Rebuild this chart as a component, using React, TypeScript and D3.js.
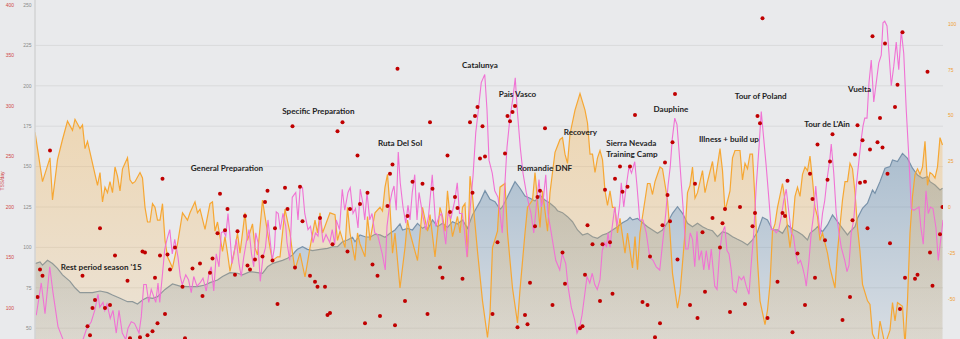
import React from "react";
import * as d3 from "d3";

const W = 960;
const H = 339;

// ---- Data (day index from start of season, value) ----
// Training Stress Balance (form) – right orange axis
const tsbSeries: [number, number][] = [[0,41],[3,14],[6,27],[7,4],[9,26],[11,37],[13,47],[15,42],[16,48],[18,43],[19,45],[20,32],[21,36],[22,30],[23,24],[25,12],[26,19],[27,3],[28,11],[29,8],[30,14],[31,8],[32,22],[33,17],[34,9],[35,21],[37,27],[38,15],[39,13],[40,14],[42,19],[43,16],[44,0],[45,-8],[46,-8],[47,2],[48,0],[49,-7],[50,-7],[51,2],[52,-18],[53,-27],[55,-33],[57,-20],[59,-3],[61,-7],[62,-3],[64,3],[65,-3],[66,-1],[68,-12],[70,2],[71,3],[72,-13],[73,-8],[75,-24],[76,-16],[77,-25],[78,-35],[80,-22],[81,-14],[82,-25],[84,-3],[85,-18],[87,-9],[88,-22],[89,-26],[91,4],[92,-5],[94,-22],[95,-29],[97,-27],[98,-27],[99,-14],[100,-1],[102,-14],[103,-25],[104,-34],[106,-25],[108,-38],[110,-22],[112,-7],[113,-14],[114,-3],[115,-14],[118,-3],[120,-4],[121,-18],[122,-13],[124,-22],[125,0],[126,-14],[128,-29],[129,-14],[130,-20],[132,-27],[133,-5],[134,-18],[136,-3],[138,0],[139,-2],[140,11],[141,18],[142,0],[143,-25],[144,-14],[146,-44],[148,-22],[149,-7],[150,-14],[153,-29],[155,0],[157,-13],[158,-4],[160,-27],[162,0],[163,-5],[164,-13],[165,9],[166,-5],[167,-16],[169,-5],[170,-14],[171,0],[172,2],[173,-27],[174,17],[175,6],[177,-24],[179,-51],[181,-71],[182,-58],[183,-22],[185,-13],[186,11],[188,13],[189,-14],[191,-44],[193,-63],[194,-45],[196,-14],[197,0],[199,4],[200,19],[202,-11],[203,9],[205,-13],[206,8],[207,19],[208,30],[210,37],[211,38],[212,29],[213,24],[214,40],[216,53],[218,62],[220,53],[221,46],[222,29],[223,29],[224,19],[225,27],[226,31],[227,26],[228,9],[229,1],[230,9],[231,0],[232,0],[233,-14],[234,-6],[236,-25],[237,-14],[239,-33],[240,-16],[241,-34],[242,-14],[243,-5],[245,13],[246,13],[247,7],[248,14],[250,22],[251,21],[253,4],[254,-14],[255,-36],[257,-55],[258,-47],[260,-14],[261,8],[262,12],[263,22],[264,5],[265,8],[267,20],[268,8],[269,14],[271,25],[272,14],[274,32],[275,20],[276,-2],[278,9],[279,27],[280,31],[282,31],[283,15],[284,24],[285,21],[286,29],[287,29],[288,4],[289,-29],[290,-51],[292,-64],[293,-56],[294,-42],[295,-13],[296,-9],[297,0],[299,13],[300,4],[301,-11],[302,-22],[303,-11],[304,6],[305,11],[306,6],[307,18],[308,22],[309,20],[310,28],[311,15],[312,0],[313,-5],[314,-18],[315,-14],[317,-25],[318,-33],[320,-44],[321,-24],[323,4],[324,14],[325,14],[326,24],[327,21],[328,8],[329,-11],[330,-24],[331,-42],[333,-51],[334,-53],[335,-69],[337,-75],[338,-62],[340,-75],[342,-67],[343,-52],[344,-62],[345,-52],[347,-54],[348,-75],[349,-51],[350,-14],[351,6],[352,18],[353,21],[354,18],[355,22],[356,36],[357,12],[358,19],[359,18],[360,16],[361,22],[362,38],[363,34]];

// Chronic Training Load (fitness) – left grey axis
const ctlSeries: [number, number][] = [[0,90],[2,91],[3,89],[5,92],[7,90],[9,87],[11,83],[14,79],[16,75],[18,72],[21,72],[23,72],[26,73],[29,72],[31,70.5],[34,68.5],[37,66.4],[39,66.4],[41,65],[43,67.5],[45,69],[47,68.5],[49,69.5],[52,74],[55,77.4],[58,76],[61,75.7],[65,75.7],[68,76.7],[70,78.2],[73,79.8],[75,82],[78,84.4],[81,84],[83,83],[86,85],[89,84.4],[91,84],[93,88],[95,90],[97,91],[99,92],[101,93.3],[103,95.3],[104,97.3],[105,98.8],[107,100.4],[109,98.8],[111,98],[114,98.8],[117,99.4],[119,100.4],[121,100.4],[123,103.5],[125,104.6],[127,106.3],[128,103.5],[130,107.7],[132,106.6],[134,106.3],[136,108.1],[138,107.7],[140,106.3],[142,108.7],[144,110.8],[146,114.5],[147,110.8],[149,111.8],[151,110.8],[153,114.9],[155,111.8],[156,112.8],[157,110.8],[159,117],[161,112.8],[163,114.9],[165,112.4],[167,115.9],[169,114.5],[171,117],[173,111.8],[175,120],[178,128.3],[180,135.1],[182,129.8],[184,128.3],[186,123.6],[187,125.2],[189,131.4],[191,137.6],[192,140.7],[194,136.6],[196,131.8],[198,130.4],[200,128.7],[202,132.4],[204,129.3],[206,127.3],[208,124.7],[209,122.7],[211,121.5],[213,119],[215,115.9],[217,110.8],[219,107.7],[221,108.7],[223,106.6],[225,105.6],[227,107.7],[229,108.7],[231,110.8],[233,112.8],[235,115.3],[237,117],[238,118.6],[239,117],[241,118],[243,115.3],[245,112.8],[247,110.8],[249,108.7],[251,110.8],[253,115.3],[255,121.1],[257,125.2],[259,121.1],[260,118],[261,114.9],[263,112.8],[265,114.9],[267,112.8],[269,111.2],[271,110.3],[273,106.6],[275,109.7],[277,108.7],[279,106.6],[281,105],[283,103.5],[285,101.5],[287,104.6],[289,109.7],[291,118.6],[293,117],[295,110.8],[297,110.8],[299,108.7],[301,113.9],[303,111.2],[305,109.7],[307,107.7],[309,104.6],[310,108.7],[312,111.2],[313,112.8],[315,109.7],[317,113.9],[319,120.1],[321,115.9],[323,111.8],[325,107.7],[326,109.7],[328,112.8],[329,118],[331,124.2],[333,127.3],[335,135.5],[336,133.5],[338,140.7],[340,149],[342,150],[343,154.1],[345,153.1],[347,158.2],[349,155.1],[351,149],[353,144.8],[355,142.8],[357,143.8],[358,140.7],[360,138.6],[362,135.5],[363,136.6]];

// Acute Training Load (fatigue) – left grey axis
const atlSeries: [number, number][] = [[0.5,58],[2.5,78],[4,59],[5.9,88],[7.2,72],[9.2,51],[11.2,43],[14,36],[17.2,34],[19.2,43],[20.5,49],[22.5,54],[23.9,61],[25.2,71],[25.9,63],[27.2,66],[27.9,61],[28.8,65],[30.1,56],[31.2,61],[32.5,47],[33.6,61],[34.9,47],[36.3,43],[37.2,50],[38.5,54],[39.8,53],[41.6,47],[42.5,57],[43.5,77],[44.5,77],[45.5,66],[46.5,74],[48.3,66],[49.2,78],[49.9,66],[50.9,82],[51.9,99],[52.8,105],[53.9,111],[54.9,96],[55.9,105],[57.2,94],[58.1,82],[58.9,77],[60.3,83],[61.4,80],[62.5,72],[63.5,82],[64.8,76],[66,78],[67.2,81],[68.5,73],[69.6,84],[70.5,88],[71.5,73],[72.5,96],[73.6,88],[74.5,109],[75.4,110],[76.3,107],[77.2,121],[77.9,109],[78.8,90],[79.6,96],[80.5,105],[81.6,90],[82.5,82],[83.5,94],[84.5,103],[85.6,111],[86.6,96],[87.5,88],[88.3,109],[89.2,103],[90.1,79],[91.2,94],[92.2,100],[93.2,117],[94,105],[94.9,92],[95.8,100],[96.5,122],[97.3,121],[98.1,111],[99.2,121],[100.3,113],[100.8,103],[101.9,92],[102.9,131],[104.3,134],[105.2,117],[106.1,138],[107,137],[107.9,121],[109.2,111],[110.2,113],[111.2,103],[112.2,109],[113.2,107],[114.1,119],[115.2,103],[116.4,108],[117.9,103],[118.9,111],[119.9,102],[120.5,117],[121.8,111],[122.9,136],[123.9,123],[125.2,134],[126.1,137],[127.2,121],[128.2,124],[129.2,112],[130.1,136],[131.2,127],[131.9,117],[132.8,134],[133.9,117],[134.8,121],[135.9,109],[137,108],[138.9,96],[140.1,86],[140.8,113],[141.9,127],[142.8,134],[143.6,138],[144.5,123],[145.3,159],[146.1,140],[147.2,125],[148.3,115],[149.2,126],[150,117],[150.9,134],[151.9,145],[152.8,117],[153.6,134],[155.2,119],[156.3,111],[157.4,119],[158.9,145],[160.3,113],[161.6,119],[162.6,121],[164.3,102],[165.2,121],[166.4,118],[167.9,129],[168.9,140],[169.8,121],[170.9,121],[171.8,110],[172.8,94],[173.9,121],[175.2,144],[176.3,171],[177.2,183],[178.5,202],[179.9,207],[180.8,185],[181.6,154],[182.9,146],[183.9,135],[185.2,131],[185.9,122],[186.9,109],[187.9,138],[188.8,162],[189.9,179],[191.2,193],[192.1,205],[192.9,185],[194.1,162],[195.2,146],[196.5,134],[197.6,126],[198.4,121],[199.5,109],[200.5,125],[201.6,142],[202.5,125],[203.4,131],[204.3,145],[205.2,121],[206.5,109],[208.3,92],[209.9,86],[210.9,96],[212.3,90],[213.2,76],[214.5,63],[215.9,55],[216.8,47],[217.9,51],[218.8,58],[219.9,71],[220.8,82],[221.9,78],[222.9,84],[223.9,77],[224.9,74],[226,80],[226.9,98],[227.9,103],[228.6,100],[229.2,109],[230,100],[230.9,113],[231.9,125],[232.8,113],[233.9,127],[234.5,140],[235.5,125],[236.5,138],[237.6,150],[238.6,146],[239.9,153],[240.8,138],[241.9,117],[243.2,117],[244.5,109],[245.9,94],[247.2,92],[248.5,88],[249.9,86],[251.2,105],[252.3,121],[253.2,138],[254.1,150],[254.9,167],[255.9,180],[256.8,176],[257.6,160],[258.5,140],[259.5,119],[260.3,99],[261.2,99],[262.1,109],[263,105],[263.9,88],[264.8,110],[265.6,92],[266.6,98],[267.5,86],[268.5,98],[269.6,86],[270.5,99],[271.9,76],[272.8,74],[273.9,98],[274.9,109],[275.9,113],[276.8,98],[277.6,96],[278.5,86],[279.2,74],[280.5,72],[281.6,82],[282.6,80],[283.5,82],[284.5,76],[285.6,71],[286.5,90],[287.5,109],[288.5,138],[289.6,162],[290.5,184],[291.5,167],[292.5,150],[293.6,129],[294.5,111],[295.6,111],[296.5,109],[297.5,111],[298.5,119],[299.5,129],[300.5,136],[301.6,121],[302.5,109],[303.4,107],[304.3,96],[305.2,90],[306.2,92],[307,88],[307.9,82],[308.5,76],[309.6,92],[310.5,109],[311.5,121],[312.3,138],[313.2,121],[314.1,108],[315,121],[315.9,129],[316.8,142],[317.9,154],[318.5,164],[319.5,146],[320.5,121],[321.6,109],[322.5,100],[323.9,92],[324.8,85],[325.6,89],[326.5,109],[327.5,117],[328.5,138],[329.6,154],[330.5,167],[331.2,175],[331.9,180],[332.8,180],[333.6,202],[334.5,216],[335.5,190],[336.5,202],[337.5,214],[338.5,219],[339.2,239],[339.9,240],[340.8,237],[341.6,220],[342.5,200],[343.5,212],[344.5,227],[345.5,210],[346.5,234],[347.5,220],[348.5,185],[349.6,154],[350.5,124],[351.6,123],[352.6,124],[353.6,125],[354.3,113],[355.3,102],[356.4,135],[357.3,121],[358.2,125],[359.2,124],[360.4,112],[361.3,92],[362.3,105],[363.2,117]];

// Daily Training Stress Score – left red axis
const tssSeries: [number, number][] = [[1,111],[2,138],[3,132],[6,256],[19,132],[21,82],[22,73],[23,100],[24,108],[26,179],[28,100],[30,103],[32,152],[37,127],[38,70],[42,71],[43,156],[44,155],[45,73],[47,77],[48,130],[49,85],[50,152],[51,228],[52,94],[53,153],[54,138],[56,160],[59,121],[60,70],[63,139],[66,144],[67,112],[70,135],[71,149],[73,174],[74,213],[76,177],[77,198],[80,133],[81,176],[84,191],[85,142],[86,138],[88,148],[91,151],[92,205],[93,216],[95,147],[96,179],[97,104],[100,219],[101,198],[103,280],[104,140],[106,220],[107,186],[110,132],[112,126],[113,121],[114,189],[116,121],[117,93],[118,95],[119,163],[121,275],[123,284],[125,156],[126,198],[129,251],[130,203],[132,85],[133,214],[135,143],[137,132],[138,92],[141,201],[142,233],[143,242],[144,83],[145,337],[148,107],[149,191],[151,225],[155,223],[157,94],[158,284],[159,218],[162,140],[163,130],[165,251],[166,195],[168,210],[169,199],[171,129],[174,284],[175,214],[176,290],[177,299],[178,248],[179,280],[180,250],[183,94],[185,165],[188,253],[189,290],[190,285],[191,294],[192,300],[193,81],[196,93],[197,84],[198,125],[200,181],[201,210],[202,216],[204,278],[207,103],[211,155],[212,124],[218,80],[219,82],[220,133],[221,182],[223,163],[226,107],[227,163],[228,217],[230,165],[231,114],[232,228],[234,240],[235,215],[237,220],[238,240],[240,291],[243,106],[245,103],[246,151],[248,71],[250,85],[251,182],[252,244],[253,212],[254,186],[255,264],[256,312],[257,148],[262,103],[264,223],[265,90],[267,175],[268,116],[271,189],[274,160],[275,184],[276,198],[278,96],[282,200],[284,104],[287,181],[288,194],[289,290],[290,283],[291,387],[293,90],[297,126],[299,194],[300,191],[301,226],[303,76],[305,154],[308,103],[310,233],[311,208],[312,130],[313,262],[316,167],[317,227],[318,245],[319,272],[323,88],[326,111],[327,187],[328,252],[329,281],[330,224],[331,266],[332,225],[333,179],[334,257],[335,369],[337,264],[338,288],[339,259],[340,362],[341,233],[342,164],[344,299],[345,321],[346,99],[347,373],[348,130],[352,129],[353,133],[357,334],[358,155],[359,122],[362,173],[363,200]];

const loadTicks = [50, 75, 100, 125, 150, 175, 200, 225, 250];
const tsbTicks = [-50, -25, 0, 25, 50, 75, 100];
const tssTicks = [100, 150, 200, 250, 300, 350, 400];

// Annotations: [text, day, load value]
const annotations: [string, number, number][] = [
  ["Rest period season '15", 10.3, 88],
  ["General Preparation", 62.3, 149.3],
  ["Specific Preparation", 98.9, 184],
  ["Ruta Del Sol", 137.2, 164.4],
  ["Catalunya", 170.8, 212.7],
  ["Pais Vasco", 185.5, 194.7],
  ["Romandie DNF", 192.9, 149],
  ["Recovery", 211.5, 171.6],
  ["Sierra Nevada", 228.5, 164.4],
  ["Training Camp", 228.5, 158],
  ["Dauphine", 247.4, 185.7],
  ["Illness + build up", 265.6, 167.1],
  ["Tour of Poland", 279.9, 193.7],
  ["Tour de L'Ain", 307.7, 176.4],
  ["Vuelta", 325.2, 198.2],
];

const PLOT_L = 35;
const PLOT_R = 943;

export default function App() {
  const x = d3.scaleLinear().domain([0, 363.2]).range([PLOT_L, PLOT_R]);
  const yLoad = d3.scaleLinear().domain([50, 250]).range([328.2, 5]);
  const yTsb = d3.scaleLinear().domain([-50, 100]).range([299, 24]);
  const yTss = d3.scaleLinear().domain([100, 400]).range([308, 5]);
  const bottom = H + 20;

  const ctlArea = d3.area<[number, number]>().x((d) => x(d[0])).y0(bottom).y1((d) => yLoad(d[1]));
  const ctlLine = d3.line<[number, number]>().x((d) => x(d[0])).y((d) => yLoad(d[1]));
  const tsbArea = d3.area<[number, number]>().x((d) => x(d[0])).y0(bottom).y1((d) => yTsb(d[1]));
  const tsbLine = d3.line<[number, number]>().x((d) => x(d[0])).y((d) => yTsb(d[1]));
  const atlLine = d3.line<[number, number]>().x((d) => x(d[0])).y((d) => yLoad(d[1]));

  const axisFont = "'Liberation Sans', Arial, sans-serif";

  return (
    <div style={{ position: "absolute", left: 0, top: 0, width: W, height: H }}>
      <svg width={W} height={H} style={{ display: "block" }}>
        <defs>
          <clipPath id="plot">
            <rect x={PLOT_L} y={0} width={PLOT_R - PLOT_L} height={H} />
          </clipPath>
          <linearGradient id="ctlGrad" gradientUnits="userSpaceOnUse" x1={0} y1={120} x2={0} y2={H}>
            <stop offset="0" stopColor="rgb(95,135,170)" stopOpacity={0.5} />
            <stop offset="1" stopColor="rgb(95,135,170)" stopOpacity={0.13} />
          </linearGradient>
          <linearGradient id="tsbGrad" gradientUnits="userSpaceOnUse" x1={0} y1={80} x2={0} y2={H}>
            <stop offset="0" stopColor="rgb(245,178,75)" stopOpacity={0.38} />
            <stop offset="1" stopColor="rgb(245,178,75)" stopOpacity={0.14} />
          </linearGradient>
        </defs>
        <rect x={0} y={0} width={W} height={H} fill="#e9eaec" />

        {/* grid */}
        {loadTicks.filter((t) => t < 250).map((t) => (
          <line key={"g" + t} x1={PLOT_L} x2={PLOT_R} y1={yLoad(t)} y2={yLoad(t)} stroke="#d9dadc" strokeWidth={1} />
        ))}

        <g clipPath="url(#plot)">
          <path d={ctlArea(ctlSeries) || ""} fill="url(#ctlGrad)" />
          <path d={ctlLine(ctlSeries) || ""} fill="none" stroke="#7892aa" strokeWidth={1.2} />
          <path d={tsbArea(tsbSeries) || ""} fill="url(#tsbGrad)" />
          <path d={tsbLine(tsbSeries) || ""} fill="none" stroke="#f6a733" strokeWidth={1.2} />
          <path d={atlLine(atlSeries) || ""} fill="none" stroke="#f072d4" strokeWidth={1.1} />
          {tssSeries.map((d, i) => (
            <circle key={i} cx={x(d[0])} cy={yTss(d[1])} r={2} fill="#c00000" />
          ))}
        </g>

        {/* left axis line */}
        <line x1={PLOT_L} x2={PLOT_L} y1={0} y2={H} stroke="#d2d3d5" strokeWidth={1.5} />

        {/* TSS axis (red) */}
        {tssTicks.map((t) => (
          <text key={"r" + t} x={14} y={yTss(t)} dy="0.35em" textAnchor="end" fontSize={5} fill="#d04848" fontFamily={axisFont}>
            {t}
          </text>
        ))}
        <text transform={`translate(4,181) rotate(-90)`} textAnchor="middle" fontSize={5} fill="#d04848" fontFamily={axisFont}>
          TSS/day
        </text>

        {/* load axis (grey) */}
        {loadTicks.map((t) => (
          <text key={"l" + t} x={31.5} y={yLoad(t)} dy="0.35em" textAnchor="end" fontSize={5} fill="#8a8a8a" fontFamily={axisFont}>
            {t}
          </text>
        ))}

        {/* TSB axis (orange) */}
        {tsbTicks.map((t) => (
          <text key={"o" + t} x={948} y={yTsb(t)} dy="0.35em" textAnchor="start" fontSize={5} fill="#f0a030" fontFamily={axisFont}>
            {t}
          </text>
        ))}

        {/* annotations */}
        {annotations.map(([label, day, v]) => (
          <text key={label} x={x(day)} y={yLoad(v)} dy="0.35em" fontSize={8.1} fontWeight={700} fill="#1e1e1e" fontFamily="Lato, 'Open Sans', sans-serif">
            {label}
          </text>
        ))}
      </svg>
    </div>
  );
}
